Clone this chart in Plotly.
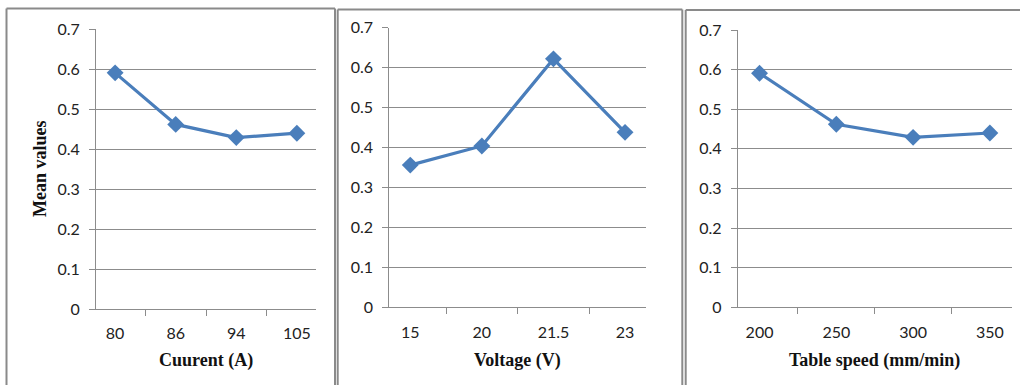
import plotly.graph_objects as go

# ---- data ----
current_labels = ["80", "86", "94", "105"]
current_means = [0.591, 0.462, 0.429, 0.440]

voltage_labels = ["15", "20", "21.5", "23"]
voltage_means = [0.356, 0.404, 0.622, 0.438]

speed_labels = ["200", "250", "300", "350"]
speed_means = [0.591, 0.462, 0.429, 0.440]

x_titles = ["Cuurent (A)", "Voltage (V)", "Table speed (mm/min)"]
y_title = "Mean values"
y_ticks = [0, 0.1, 0.2, 0.3, 0.4, 0.5, 0.6, 0.7]

W, H = 1020, 385
LINE = "#4A7EBB"
GRID = "#8C8C8C"
TICKFONT = dict(family="Lato, Calibri, sans-serif", size=16, color="#222222")
TITLEFONT = dict(family="Liberation Serif, Times New Roman, serif", size=18, color="#111111")

# plot-area boxes in page pixels (left, right, top, bottom)
boxes = [(96, 316, 29.3, 309), (389.3, 646, 27.7, 307.3), (737.7, 1011.7, 30, 307.3)]

def px(x):
    return x / W

def py(y):
    return 1 - y / H

fig = go.Figure()
series = [(current_labels, current_means), (voltage_labels, voltage_means), (speed_labels, speed_means)]
for i, ((labs, vals), (l, r, t, b)) in enumerate(zip(series, boxes)):
    sfx = "" if i == 0 else str(i + 1)
    fig.add_trace(go.Scatter(
        x=labs, y=vals, mode="lines+markers",
        line=dict(color=LINE, width=3.2),
        marker=dict(symbol="diamond", size=13, color=LINE),
        xaxis="x" + sfx, yaxis="y" + sfx, showlegend=False,
    ))
    fig.layout["xaxis" + sfx] = dict(
        domain=[px(l), px(r)], anchor="y" + sfx, type="category",
        categoryorder="array", categoryarray=labs, automargin=False,
        tickson="boundaries", ticks="outside", ticklen=6, tickcolor=GRID,
        showline=True, linecolor=GRID, linewidth=1, showgrid=False, zeroline=False,
        tickfont=TICKFONT, ticklabelstandoff=10, fixedrange=True,
    )
    fig.layout["yaxis" + sfx] = dict(
        domain=[py(b), py(t)], anchor="x" + sfx, range=[0, 0.7], automargin=False,
        tickvals=y_ticks, ticktext=[f"{v:g}" for v in y_ticks],
        ticks="outside", ticklen=6, tickcolor=GRID,
        showline=True, linecolor=GRID, linewidth=1,
        showgrid=True, gridcolor=GRID, gridwidth=1, zeroline=False,
        tickfont=TICKFONT, ticklabelstandoff=6, fixedrange=True,
    )
    fig.add_annotation(
        text="<b>" + x_titles[i] + "</b>", xref="paper", yref="paper",
        x=px((l + r) / 2), y=py(360), xanchor="center", yanchor="middle",
        showarrow=False, font=TITLEFONT,
    )

fig.add_annotation(
    text="<b>" + y_title + "</b>", xref="paper", yref="paper",
    x=px(40), y=py(169), xanchor="center", yanchor="middle", textangle=-90,
    showarrow=False, font=TITLEFONT,
)

# panel borders
BORDER = "#8A8A8A"
panels = [(6.5, 335, 8.5), (337.7, 682.3, 9.5), (685.7, 1030, 10)]
shapes = []
for (l, r, t) in panels:
    shapes.append(dict(type="line", xref="paper", yref="paper", x0=px(l), x1=px(l), y0=py(t), y1=py(400),
                       line=dict(color=BORDER, width=2)))
    shapes.append(dict(type="line", xref="paper", yref="paper", x0=px(l), x1=px(r), y0=py(t), y1=py(t),
                       line=dict(color=BORDER, width=2)))
    shapes.append(dict(type="line", xref="paper", yref="paper", x0=px(r), x1=px(r), y0=py(t), y1=py(400),
                       line=dict(color=BORDER, width=2)))

fig.update_layout(
    width=W, height=H, margin=dict(l=0, r=0, t=0, b=0, autoexpand=False),
    paper_bgcolor="white", plot_bgcolor="white", shapes=shapes,
)

fig.write_html(
    "out.html",
    config={"displayModeBar": False},
    post_script="document.body.style.margin='0';document.body.style.overflow='hidden';",
)
